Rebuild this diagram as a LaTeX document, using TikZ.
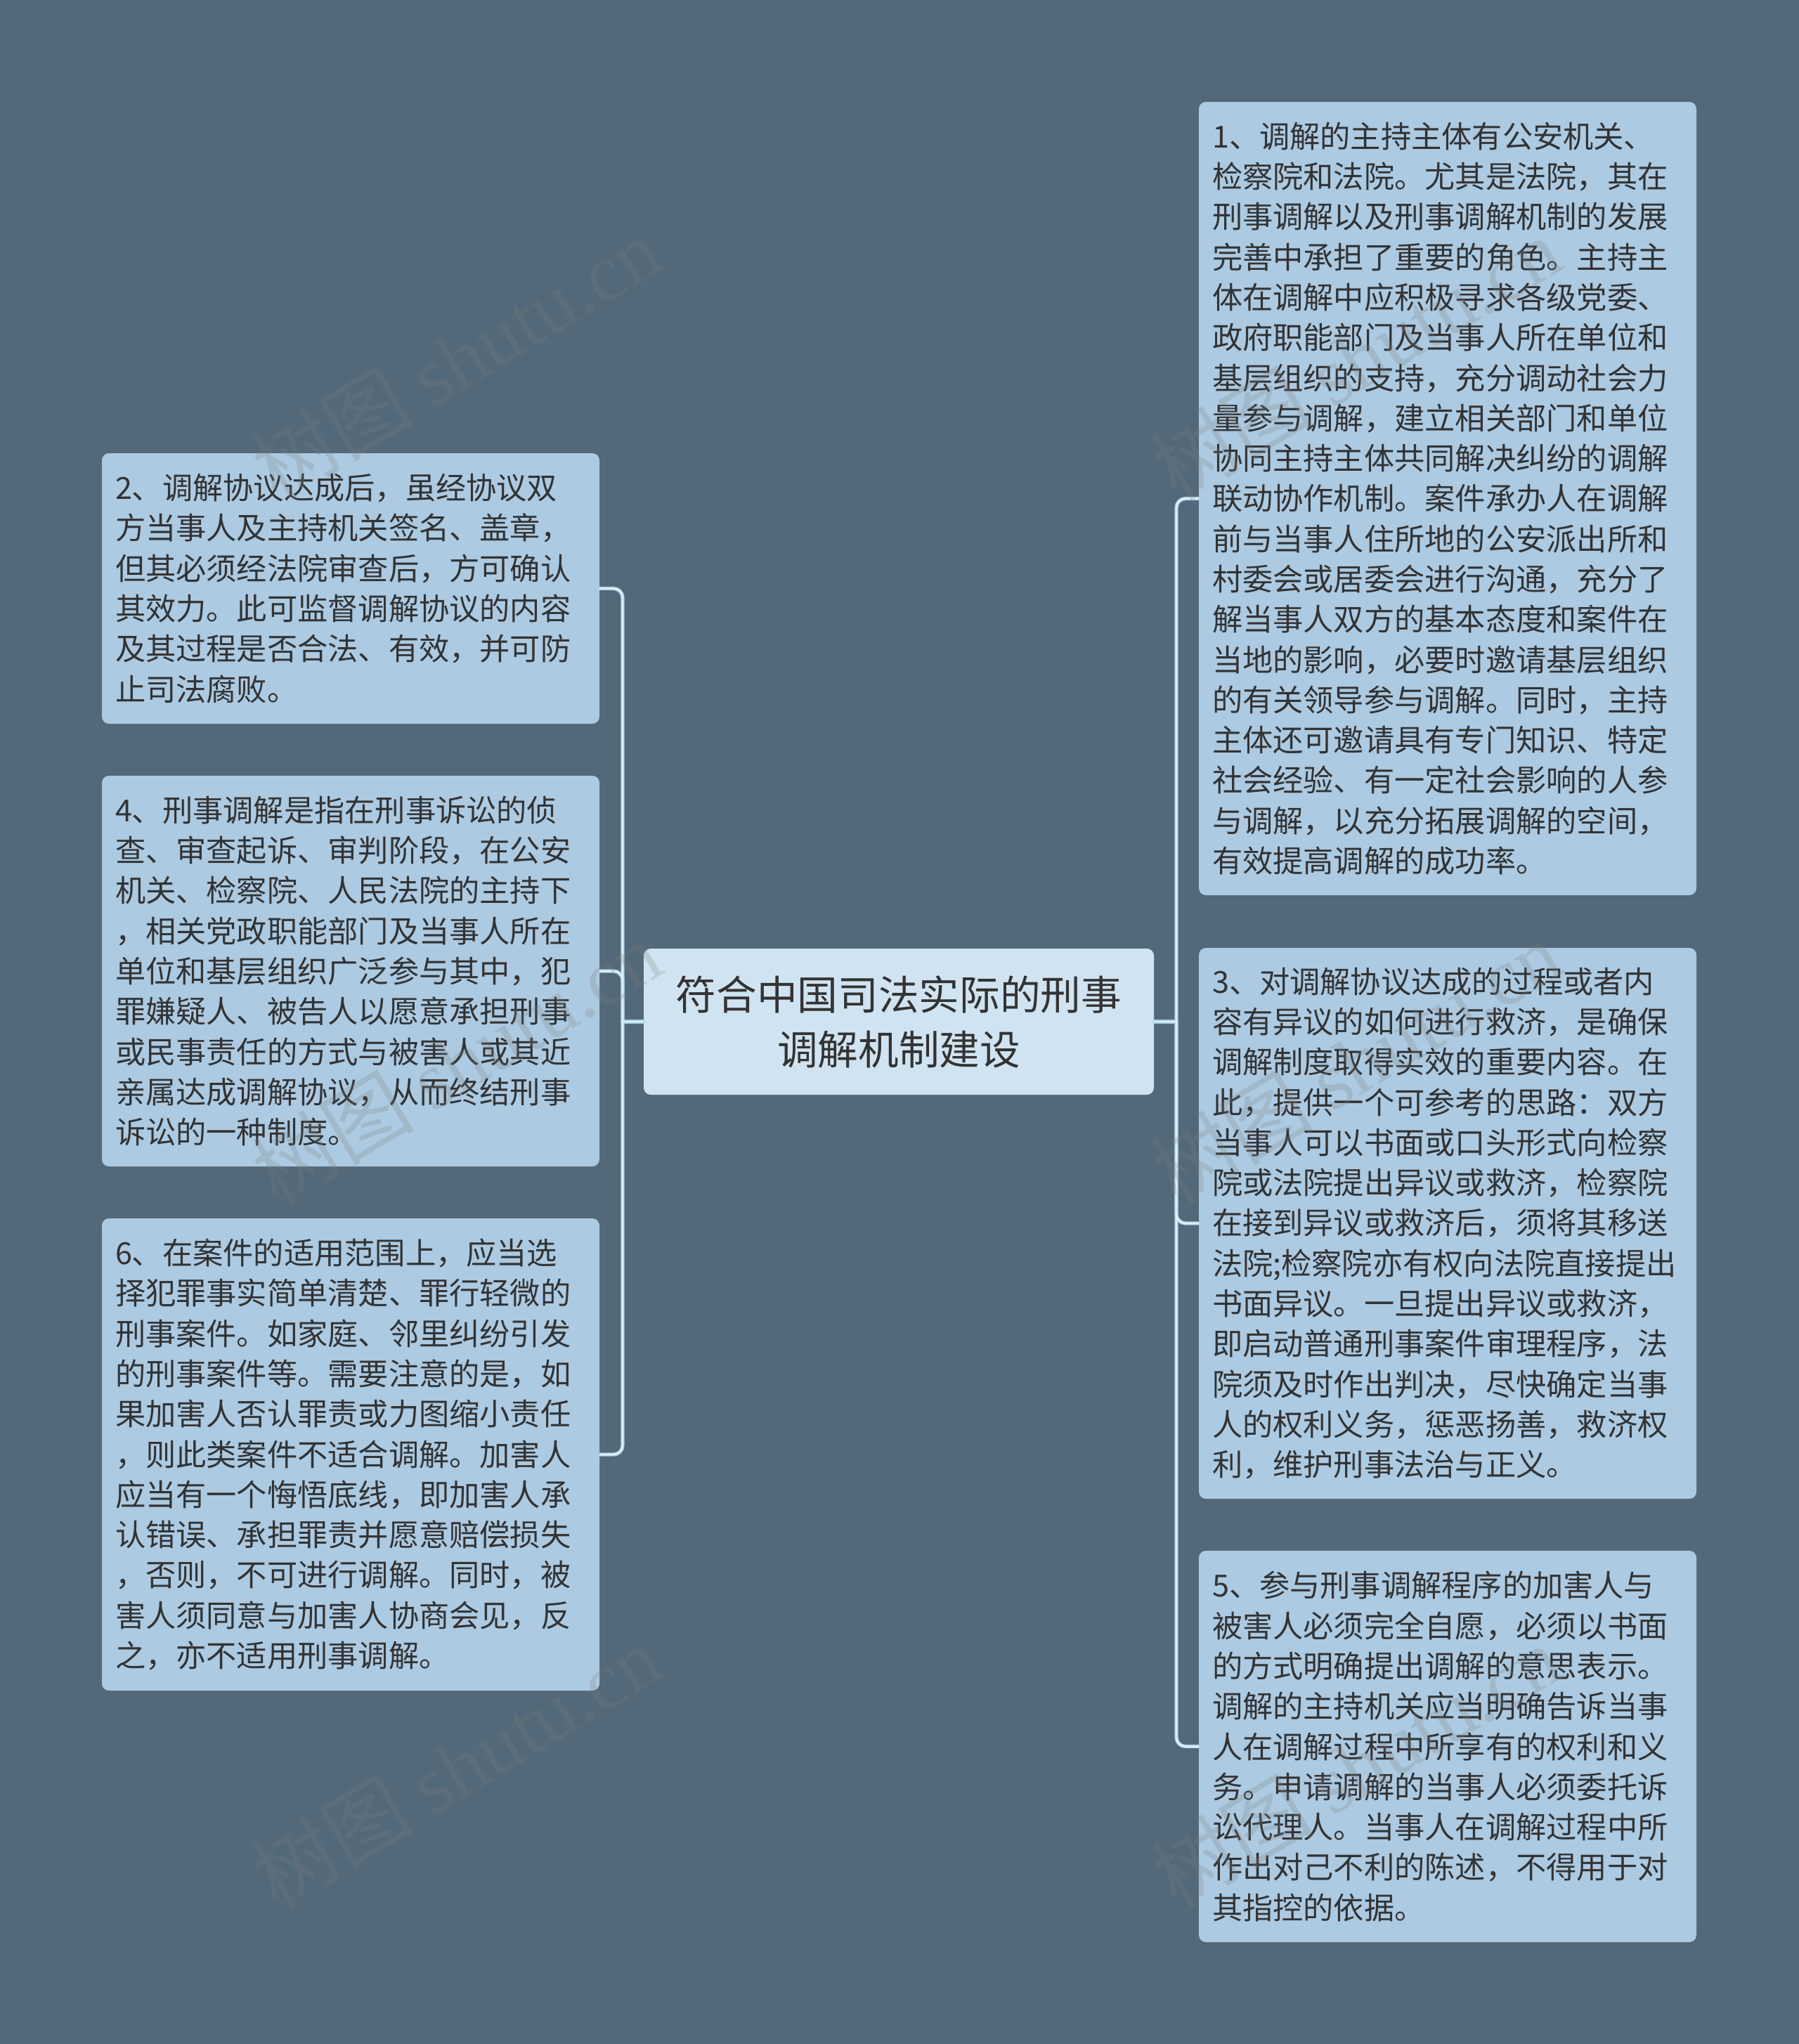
\documentclass[tikz,border=0pt]{standalone}
\usepackage{fontspec}
\setmainfont{Noto Sans CJK SC}
\newfontfamily\wmfont{Liberation Serif}
\definecolor{bgslate}{HTML}{536878}
\definecolor{leafblue}{HTML}{ACCAE1}
\definecolor{rootblue}{HTML}{CFE4F0}
\definecolor{linkedge}{HTML}{A9CFE4}
\definecolor{linkcore}{HTML}{E2F1F8}
\definecolor{inkgray}{HTML}{333333}

\begin{document}
\begin{tikzpicture}[
    leaf/.style={fill=leafblue, rounded corners=0.1cm, text=inkgray, text width=6.7cm,
        align=left, inner xsep=0.19cm, inner ysep=0pt, font=\fontsize{12.3pt}{16.3pt}\selectfont},
    root/.style={fill=rootblue, rounded corners=0.1cm, text=inkgray, align=center,
        minimum width=7.26cm, minimum height=2.08cm, font=\fontsize{16.4pt}{22.2pt}\selectfont},
    link/.style={rounded corners=0.13cm, line cap=round},
    watermark/.style={text=gray, opacity=0.24, rotate=31, font=\fontsize{33pt}{33pt}\selectfont}
]
    \fill[bgslate] (0,0) rectangle (25.6,-29.09);

    \node[root] (root) at (12.79,-14.54) {符合中国司法实际的刑事\\调解机制建设};

    \node[leaf, minimum height=3.85cm] (n2) at (4.99,-8.375) {2、调解协议达成后，虽经协议双\\方当事人及主持机关签名、盖章，\\但其必须经法院审查后，方可确认\\其效力。此可监督调解协议的内容\\及其过程是否合法、有效，并可防\\止司法腐败。};
    \node[leaf, minimum height=5.56cm] (n4) at (4.99,-13.82) {4、刑事调解是指在刑事诉讼的侦\\查、审查起诉、审判阶段，在公安\\机关、检察院、人民法院的主持下\\，相关党政职能部门及当事人所在\\单位和基层组织广泛参与其中，犯\\罪嫌疑人、被告人以愿意承担刑事\\或民事责任的方式与被害人或其近\\亲属达成调解协议，从而终结刑事\\诉讼的一种制度。};
    \node[leaf, minimum height=6.72cm] (n6) at (4.99,-20.70) {6、在案件的适用范围上，应当选\\择犯罪事实简单清楚、罪行轻微的\\刑事案件。如家庭、邻里纠纷引发\\的刑事案件等。需要注意的是，如\\果加害人否认罪责或力图缩小责任\\，则此类案件不适合调解。加害人\\应当有一个悔悟底线，即加害人承\\认错误、承担罪责并愿意赔偿损失\\，否则，不可进行调解。同时，被\\害人须同意与加害人协商会见，反\\之，亦不适用刑事调解。};

    \node[leaf, minimum height=11.29cm] (n1) at (20.60,-7.095) {1、调解的主持主体有公安机关、\\检察院和法院。尤其是法院，其在\\刑事调解以及刑事调解机制的发展\\完善中承担了重要的角色。主持主\\体在调解中应积极寻求各级党委、\\政府职能部门及当事人所在单位和\\基层组织的支持，充分调动社会力\\量参与调解，建立相关部门和单位\\协同主持主体共同解决纠纷的调解\\联动协作机制。案件承办人在调解\\前与当事人住所地的公安派出所和\\村委会或居委会进行沟通，充分了\\解当事人双方的基本态度和案件在\\当地的影响，必要时邀请基层组织\\的有关领导参与调解。同时，主持\\主体还可邀请具有专门知识、特定\\社会经验、有一定社会影响的人参\\与调解，以充分拓展调解的空间，\\有效提高调解的成功率。};
    \node[leaf, minimum height=7.84cm] (n3) at (20.60,-17.41) {3、对调解协议达成的过程或者内\\容有异议的如何进行救济，是确保\\调解制度取得实效的重要内容。在\\此，提供一个可参考的思路：双方\\当事人可以书面或口头形式向检察\\院或法院提出异议或救济，检察院\\在接到异议或救济后，须将其移送\\法院;检察院亦有权向法院直接提出\\书面异议。一旦提出异议或救济，\\即启动普通刑事案件审理程序，法\\院须及时作出判决，尽快确定当事\\人的权利义务，惩恶扬善，救济权\\利，维护刑事法治与正义。};
    \node[leaf, minimum height=5.57cm] (n5) at (20.60,-24.855) {5、参与刑事调解程序的加害人与\\被害人必须完全自愿，必须以书面\\的方式明确提出调解的意思表示。\\调解的主持机关应当明确告诉当事\\人在调解过程中所享有的权利和义\\务。申请调解的当事人必须委托诉\\讼代理人。当事人在调解过程中所\\作出对己不利的陈述，不得用于对\\其指控的依据。};

    \coordinate (lj) at (8.86,-14.54);
    \coordinate (rj) at (16.74,-14.54);
    \foreach \wd/\col in {1.5pt/linkedge, 0.7pt/linkcore} {
        \draw[link, line width=\wd, draw=\col] (root.west) -- (lj);
        \draw[link, line width=\wd, draw=\col] (root.east) -- (rj);
        \foreach \leaf in {n2,n4,n6}
            \draw[link, line width=\wd, draw=\col] (lj) |- (\leaf.east);
        \foreach \leaf in {n1,n3,n5}
            \draw[link, line width=\wd, draw=\col] (rj) |- (\leaf.west);
    }

    \foreach \wx [count=\i] in {6.49,19.29}
        \foreach \wy [count=\j] in {-5.10,-15.12,-25.14}
            \node[watermark] (wm\i\j) at (\wx,\wy) {树图 {\wmfont shutu.cn}};
\end{tikzpicture}
\end{document}
